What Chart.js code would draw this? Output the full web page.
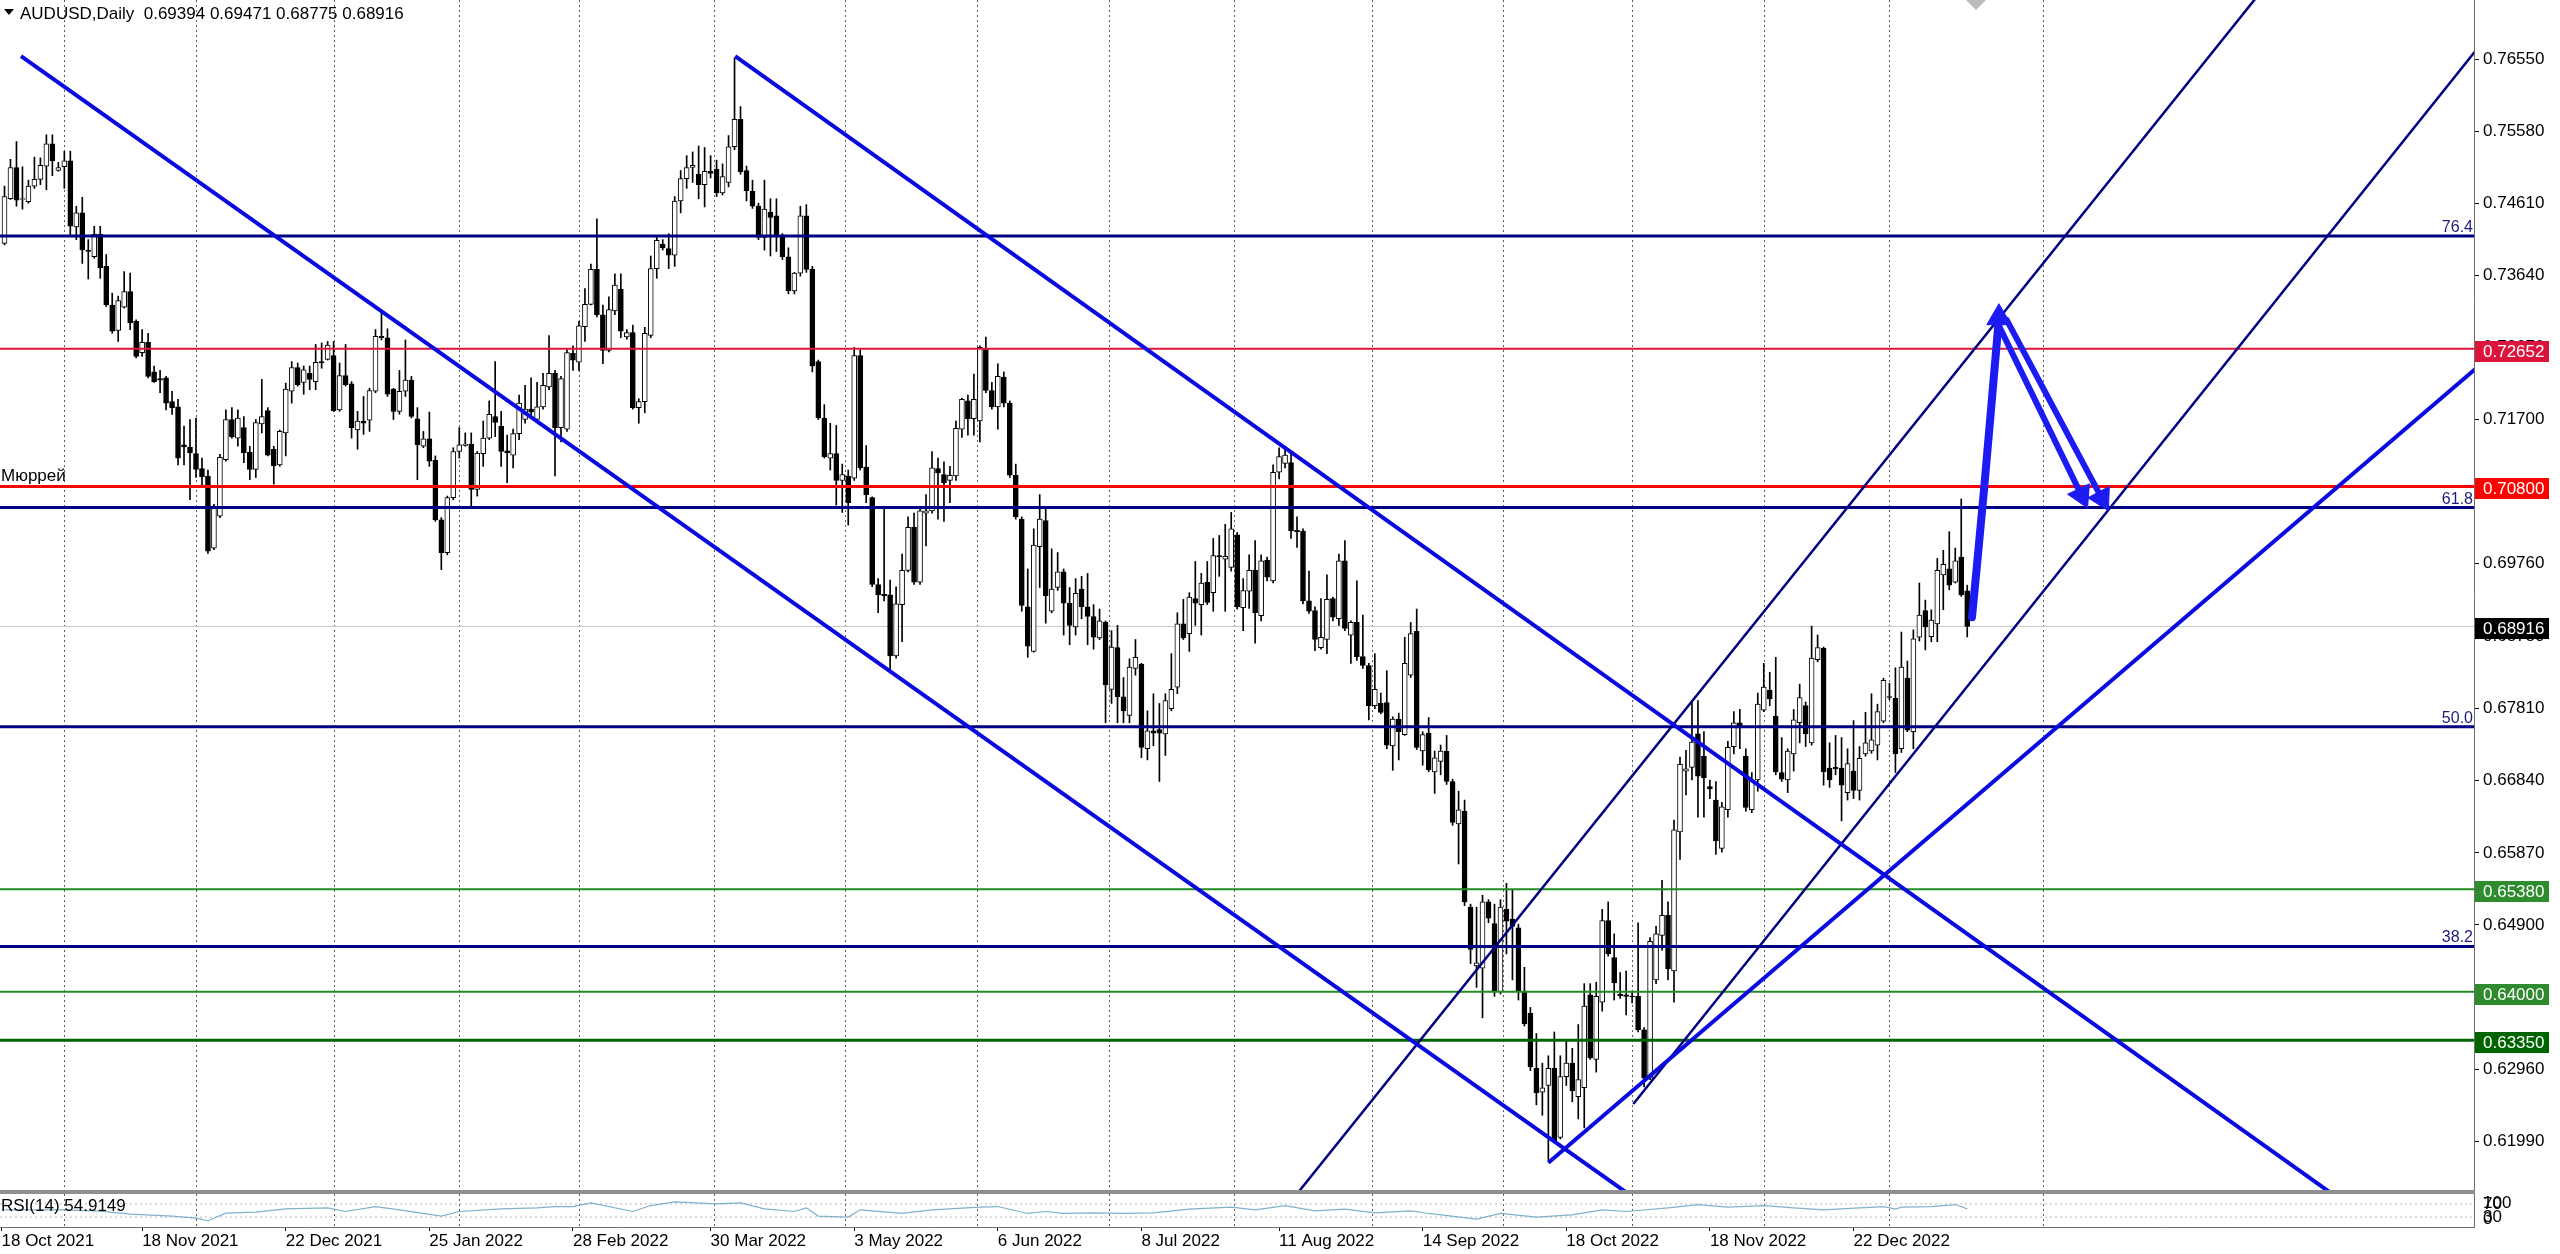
<!DOCTYPE html>
<html>
<head>
<meta charset="utf-8">
<script src="https://cdn.jsdelivr.net/npm/chart.js@4.4.0/dist/chart.umd.min.js"></script>
<style>
  html, body { margin: 0; padding: 0; background: #fff; }
  #wrap { position: relative; width: 2560px; height: 1254px; overflow: hidden; background: #fff; }
  #main { position: absolute; left: 0; top: 0; }
  #rsi { position: absolute; left: 0; top: 1190px; }
</style>
</head>
<body>
<div id="wrap">
  <canvas id="main" width="2560" height="1190"></canvas>
  <canvas id="rsi" width="2560" height="64"></canvas>
</div>
<script>
const FONT = '"Liberation Sans", Arial, sans-serif';
Chart.defaults.font.family = FONT;
Chart.defaults.font.size = 17;
Chart.defaults.color = '#000';

// AUDUSD daily candles, [open, high, low, close], one entry per bar
const oct2021 = [[0.7407,0.7484,0.7405,0.7470],[0.7467,0.7520,0.7466,0.7509],[0.7509,0.7544,0.7457,0.7465],[0.7466,0.7510,0.7453,0.7467],[0.7463,0.7492,0.7461,0.7484],[0.7484,0.7523,0.7481,0.7493],[0.7493,0.7522,0.7486,0.7512],[0.7511,0.7553,0.7479,0.7541],[0.7541,0.7553,0.7498,0.7518],[0.7505,0.7516,0.7504,0.7509]];
const nov2021 = [[0.7510,0.7531,0.7481,0.7518],[0.7518,0.7531,0.7416,0.7430],[0.7429,0.7457,0.7412,0.7448],[0.7448,0.7469,0.7380,0.7398],[0.7398,0.7412,0.7359,0.7396],[0.7389,0.7430,0.7387,0.7419],[0.7419,0.7430,0.7360,0.7374],[0.7376,0.7392,0.7322,0.7324],[0.7324,0.7340,0.7286,0.7289],[0.7290,0.7336,0.7275,0.7330],[0.7321,0.7369,0.7320,0.7342],[0.7342,0.7367,0.7291,0.7300],[0.7302,0.7304,0.7253,0.7255],[0.7260,0.7291,0.7255,0.7274],[0.7274,0.7286,0.7226,0.7228],[0.7234,0.7242,0.7220,0.7221],[0.7225,0.7236,0.7206,0.7223],[0.7226,0.7228,0.7183,0.7192],[0.7194,0.7208,0.7177,0.7186],[0.7187,0.7197,0.7109,0.7118],[0.7136,0.7161,0.7109,0.7133],[0.7133,0.7170,0.7062,0.7125]];
const dec2021 = [[0.7124,0.7172,0.7092,0.7103],[0.7104,0.7118,0.7080,0.7093],[0.7094,0.7102,0.6990,0.6993],[0.6997,0.7056,0.6995,0.7053],[0.7040,0.7123,0.7038,0.7119],[0.7116,0.7183,0.7114,0.7170],[0.7170,0.7186,0.7145,0.7147],[0.7145,0.7183,0.7134,0.7172],[0.7159,0.7174,0.7112,0.7125],[0.7126,0.7134,0.7089,0.7103],[0.7103,0.7170,0.7092,0.7166],[0.7164,0.7224,0.7152,0.7174],[0.7182,0.7186,0.7121,0.7122],[0.7130,0.7134,0.7083,0.7108],[0.7109,0.7156,0.7107,0.7154],[0.7152,0.7219,0.7121,0.7211],[0.7208,0.7248,0.7192,0.7240],[0.7240,0.7246,0.7215,0.7217],[0.7220,0.7242,0.7204,0.7237],[0.7232,0.7242,0.7210,0.7224],[0.7221,0.7271,0.7210,0.7247],[0.7248,0.7273,0.7239,0.7246],[0.7251,0.7275,0.7250,0.7270]];
const jan2022 = [[0.7256,0.7275,0.7181,0.7182],[0.7183,0.7246,0.7181,0.7229],[0.7229,0.7271,0.7215,0.7217],[0.7218,0.7221,0.7145,0.7159],[0.7156,0.7181,0.7130,0.7168],[0.7168,0.7201,0.7150,0.7165],[0.7169,0.7212,0.7154,0.7209],[0.7208,0.7291,0.7206,0.7282],[0.7282,0.7313,0.7277,0.7280],[0.7280,0.7292,0.7201,0.7204],[0.7211,0.7212,0.7170,0.7181],[0.7181,0.7236,0.7177,0.7208],[0.7208,0.7277,0.7201,0.7223],[0.7223,0.7228,0.7172,0.7174],[0.7171,0.7186,0.7089,0.7136],[0.7134,0.7154,0.7132,0.7144],[0.7144,0.7180,0.7107,0.7114],[0.7115,0.7121,0.7033,0.7035],[0.7035,0.7038,0.6968,0.6991],[0.6991,0.7067,0.6988,0.7065],[0.7065,0.7132,0.7062,0.7127]];
const feb2022 = [[0.7127,0.7159,0.7118,0.7136],[0.7135,0.7152,0.7134,0.7137],[0.7137,0.7152,0.7053,0.7076],[0.7076,0.7127,0.7067,0.7125],[0.7124,0.7168,0.7107,0.7145],[0.7145,0.7195,0.7143,0.7177],[0.7174,0.7248,0.7147,0.7166],[0.7161,0.7181,0.7107,0.7127],[0.7128,0.7149,0.7085,0.7125],[0.7122,0.7157,0.7105,0.7151],[0.7151,0.7203,0.7143,0.7192],[0.7170,0.7216,0.7165,0.7184],[0.7184,0.7226,0.7174,0.7180],[0.7170,0.7220,0.7168,0.7187],[0.7187,0.7232,0.7184,0.7216],[0.7214,0.7283,0.7210,0.7232],[0.7232,0.7236,0.7094,0.7159],[0.7159,0.7228,0.7140,0.7225],[0.7157,0.7264,0.7154,0.7260],[0.7259,0.7269,0.7236,0.7250]];
const mar2022 = [[0.7247,0.7302,0.7236,0.7296],[0.7295,0.7346,0.7275,0.7325],[0.7325,0.7379,0.7324,0.7372],[0.7372,0.7440,0.7308,0.7311],[0.7311,0.7324,0.7245,0.7263],[0.7263,0.7335,0.7261,0.7318],[0.7316,0.7366,0.7311,0.7351],[0.7345,0.7366,0.7280,0.7289],[0.7281,0.7291,0.7278,0.7287],[0.7287,0.7297,0.7184,0.7186],[0.7186,0.7198,0.7165,0.7194],[0.7194,0.7294,0.7179,0.7286],[0.7283,0.7390,0.7280,0.7373],[0.7373,0.7415,0.7360,0.7411],[0.7406,0.7412,0.7398,0.7401],[0.7400,0.7420,0.7373,0.7391],[0.7391,0.7470,0.7376,0.7464],[0.7464,0.7505,0.7448,0.7494],[0.7494,0.7525,0.7481,0.7509],[0.7509,0.7530,0.7489,0.7512],[0.7500,0.7538,0.7467,0.7486],[0.7486,0.7536,0.7456,0.7504],[0.7504,0.7525,0.7495,0.7501]];
const apr2022 = [[0.7507,0.7519,0.7470,0.7475],[0.7475,0.7514,0.7472,0.7497],[0.7489,0.7552,0.7483,0.7537],[0.7537,0.7656,0.7533,0.7574],[0.7574,0.7591,0.7500,0.7503],[0.7505,0.7511,0.7464,0.7478],[0.7477,0.7492,0.7454,0.7457],[0.7457,0.7461,0.7412,0.7415],[0.7415,0.7492,0.7398,0.7453],[0.7449,0.7467,0.7390,0.7442],[0.7444,0.7467,0.7396,0.7416],[0.7416,0.7420,0.7385,0.7389],[0.7389,0.7401,0.7339,0.7343],[0.7343,0.7368,0.7339,0.7367],[0.7367,0.7457,0.7363,0.7444],[0.7444,0.7459,0.7368,0.7372],[0.7372,0.7376,0.7234,0.7242],[0.7248,0.7250,0.7170,0.7172],[0.7172,0.7190,0.7118,0.7120],[0.7118,0.7165,0.7102,0.7124],[0.7124,0.7162,0.7055,0.7088]];
const may2022 = [[0.7088,0.7110,0.7045,0.7096],[0.7094,0.7102,0.7028,0.7058],[0.7091,0.7267,0.7088,0.7256],[0.7256,0.7264,0.7102,0.7105],[0.7106,0.7135,0.7058,0.7069],[0.7065,0.7066,0.6945,0.6948],[0.6948,0.6956,0.6910,0.6934],[0.6935,0.7050,0.6926,0.6933],[0.6934,0.6954,0.6830,0.6852],[0.6852,0.6945,0.6849,0.6922],[0.6921,0.6989,0.6871,0.6967],[0.6967,0.7039,0.6965,0.7025],[0.7025,0.7044,0.6948,0.6951],[0.6951,0.7053,0.6948,0.7047],[0.7044,0.7069,0.7000,0.7047],[0.7047,0.7127,0.7044,0.7105],[0.7104,0.7118,0.7036,0.7098],[0.7096,0.7113,0.7033,0.7085],[0.7088,0.7107,0.7058,0.7095],[0.7094,0.7168,0.7088,0.7158],[0.7157,0.7199,0.7146,0.7197],[0.7195,0.7203,0.7149,0.7171]];
const jun2022 = [[0.7171,0.7231,0.7149,0.7197],[0.7168,0.7269,0.7140,0.7267],[0.7264,0.7281,0.7206,0.7209],[0.7209,0.7220,0.7184,0.7187],[0.7187,0.7245,0.7157,0.7228],[0.7227,0.7234,0.7187,0.7192],[0.7192,0.7195,0.7092,0.7095],[0.7095,0.7110,0.7036,0.7039],[0.7036,0.7039,0.6912,0.6920],[0.6918,0.6969,0.6850,0.6865],[0.6858,0.7023,0.6857,0.7001],[0.6999,0.7069,0.6944,0.7036],[0.7034,0.7052,0.6896,0.6933],[0.6912,0.6996,0.6910,0.6942],[0.6944,0.6991,0.6940,0.6965],[0.6965,0.6969,0.6880,0.6923],[0.6923,0.6944,0.6867,0.6893],[0.6891,0.6956,0.6880,0.6936],[0.6942,0.6959,0.6902,0.6918],[0.6918,0.6963,0.6867,0.6905],[0.6905,0.6921,0.6861,0.6877],[0.6876,0.6915,0.6874,0.6899]];
const jul2022 = [[0.6897,0.6899,0.6762,0.6813],[0.6807,0.6886,0.6788,0.6864],[0.6863,0.6893,0.6762,0.6797],[0.6797,0.6823,0.6762,0.6778],[0.6772,0.6848,0.6762,0.6837],[0.6835,0.6874,0.6826,0.6850],[0.6841,0.6842,0.6715,0.6729],[0.6727,0.6778,0.6712,0.6751],[0.6751,0.6801,0.6731,0.6748],[0.6753,0.6788,0.6683,0.6748],[0.6747,0.6801,0.6718,0.6792],[0.6781,0.6855,0.6778,0.6807],[0.6810,0.6910,0.6801,0.6895],[0.6895,0.6928,0.6874,0.6876],[0.6882,0.6937,0.6858,0.6931],[0.6929,0.6979,0.6893,0.6923],[0.6921,0.6963,0.6880,0.6950],[0.6951,0.6979,0.6921,0.6924],[0.6937,0.7010,0.6912,0.6987],[0.6987,0.7014,0.6959,0.6985],[0.6982,0.7029,0.6912,0.6986]];
const aug2022 = [[0.6971,0.7045,0.6966,0.7023],[0.7015,0.7018,0.6915,0.6918],[0.6917,0.6956,0.6886,0.6940],[0.6939,0.6988,0.6916,0.6967],[0.6967,0.7007,0.6869,0.6910],[0.6906,0.6988,0.6899,0.6980],[0.6981,0.6985,0.6953,0.6958],[0.6953,0.7109,0.6950,0.7099],[0.7099,0.7132,0.7090,0.7120],[0.7111,0.7131,0.7105,0.7122],[0.7112,0.7125,0.7010,0.7020],[0.7021,0.7039,0.6998,0.7019],[0.7020,0.7023,0.6922,0.6926],[0.6926,0.6966,0.6909,0.6912],[0.6913,0.6918,0.6859,0.6874],[0.6863,0.6929,0.6861,0.6877],[0.6874,0.6961,0.6855,0.6928],[0.6929,0.6931,0.6899,0.6904],[0.6902,0.6989,0.6893,0.6980],[0.6980,0.7007,0.6886,0.6889],[0.6880,0.6899,0.6842,0.6897],[0.6897,0.6953,0.6846,0.6851],[0.6851,0.6907,0.6835,0.6839]];
const sep2022 = [[0.6839,0.6842,0.6766,0.6785],[0.6785,0.6855,0.6781,0.6807],[0.6788,0.6802,0.6774,0.6776],[0.6789,0.6832,0.6727,0.6732],[0.6731,0.6770,0.6698,0.6767],[0.6767,0.6775,0.6712,0.6750],[0.6746,0.6877,0.6745,0.6842],[0.6826,0.6897,0.6823,0.6882],[0.6885,0.6915,0.6726,0.6729],[0.6724,0.6750,0.6705,0.6746],[0.6748,0.6769,0.6696,0.6699],[0.6696,0.6724,0.6667,0.6715],[0.6710,0.6732,0.6692,0.6724],[0.6724,0.6745,0.6679,0.6683],[0.6683,0.6686,0.6624,0.6628],[0.6626,0.6670,0.6572,0.6645],[0.6643,0.6658,0.6516,0.6521],[0.6514,0.6518,0.6438,0.6457],[0.6435,0.6514,0.6406,0.6439],[0.6432,0.6530,0.6365,0.6521],[0.6521,0.6524,0.6493,0.6499],[0.6492,0.6518,0.6394,0.6400]];
const oct2022 = [[0.6400,0.6524,0.6397,0.6514],[0.6511,0.6546,0.6451,0.6495],[0.6498,0.6538,0.6416,0.6488],[0.6486,0.6491,0.6389,0.6401],[0.6401,0.6433,0.6354,0.6357],[0.6371,0.6379,0.6294,0.6299],[0.6297,0.6344,0.6248,0.6264],[0.6265,0.6304,0.6234,0.6271],[0.6274,0.6314,0.6173,0.6297],[0.6297,0.6346,0.6197,0.6199],[0.6204,0.6314,0.6202,0.6286],[0.6286,0.6336,0.6274,0.6304],[0.6304,0.6324,0.6252,0.6267],[0.6259,0.6356,0.6229,0.6282],[0.6271,0.6411,0.6217,0.6381],[0.6396,0.6411,0.6309,0.6311],[0.6309,0.6413,0.6292,0.6394],[0.6386,0.6511,0.6374,0.6496],[0.6496,0.6521,0.6448,0.6451],[0.6446,0.6478,0.6389,0.6412],[0.6397,0.6426,0.6391,0.6395]];
const nov2022 = [[0.6396,0.6428,0.6369,0.6394],[0.6394,0.6401,0.6385,0.6393],[0.6394,0.6493,0.6346,0.6349],[0.6349,0.6352,0.6272,0.6284],[0.6284,0.6473,0.6282,0.6468],[0.6416,0.6488,0.6411,0.6478],[0.6476,0.6550,0.6456,0.6503],[0.6503,0.6521,0.6416,0.6431],[0.6428,0.6631,0.6386,0.6618],[0.6615,0.6716,0.6578,0.6706],[0.6697,0.6725,0.6665,0.6700],[0.6702,0.6792,0.6685,0.6736],[0.6747,0.6792,0.6635,0.6690],[0.6717,0.6750,0.6635,0.6688],[0.6676,0.6685,0.6660,0.6673],[0.6658,0.6683,0.6585,0.6603],[0.6593,0.6655,0.6588,0.6649],[0.6645,0.6737,0.6635,0.6729],[0.6730,0.6777,0.6720,0.6762],[0.6762,0.6780,0.6727,0.6755],[0.6717,0.6727,0.6643,0.6648],[0.6645,0.6695,0.6641,0.6685]];
const dec2022 = [[0.6685,0.6802,0.6670,0.6787],[0.6779,0.6842,0.6777,0.6810],[0.6806,0.6830,0.6785,0.6794],[0.6771,0.6850,0.6692,0.6696],[0.6695,0.6742,0.6683,0.6686],[0.6685,0.6727,0.6668,0.6724],[0.6720,0.6780,0.6697,0.6766],[0.6762,0.6814,0.6735,0.6796],[0.6785,0.6790,0.6730,0.6747],[0.6735,0.6892,0.6732,0.6849],[0.6847,0.6880,0.6844,0.6863],[0.6862,0.6864,0.6678,0.6696],[0.6701,0.6735,0.6675,0.6685],[0.6702,0.6745,0.6692,0.6700],[0.6701,0.6742,0.6630,0.6678],[0.6668,0.6727,0.6658,0.6707],[0.6697,0.6765,0.6660,0.6671],[0.6671,0.6730,0.6658,0.6714],[0.6720,0.6776,0.6717,0.6735],[0.6724,0.6801,0.6721,0.6739],[0.6732,0.6787,0.6712,0.6777],[0.6764,0.6822,0.6762,0.6819]];
const jan2023 = [[0.6797,0.6815,0.6793,0.6796],[0.6795,0.6836,0.6695,0.6720],[0.6727,0.6884,0.6722,0.6837],[0.6822,0.6845,0.6750,0.6752],[0.6750,0.6887,0.6727,0.6875],[0.6877,0.6950,0.6872,0.6907],[0.6913,0.6927,0.6860,0.6891],[0.6878,0.6914,0.6871,0.6900],[0.6895,0.6983,0.6871,0.6967],[0.6961,0.6994,0.6914,0.6975],[0.6969,0.7019,0.6941,0.6947],[0.6951,0.6997,0.6950,0.6980],[0.6985,0.7063,0.6932,0.6934],[0.69394,0.69471,0.68775,0.68916]];

const candles = [].concat(oct2021, nov2021, dec2021, jan2022, feb2022, mar2022, apr2022,
  may2022, jun2022, jul2022, aug2022, sep2022, oct2022, nov2022, dec2022, jan2023);

// price axis ticks
const priceTicks = [0.76550, 0.75580, 0.74610, 0.73640, 0.72670, 0.71700, 0.70730, 0.69760,
  0.68780, 0.67810, 0.66840, 0.65870, 0.64900, 0.63930, 0.62960, 0.61990];

// date axis (bar index of each label) and month separators
const dateTickIdx = [-0.5, 23, 47, 71, 95, 118, 142, 166, 190, 213, 237, 261, 285, 309];
const dateTickText = ['18 Oct 2021', '18 Nov 2021', '22 Dec 2021', '25 Jan 2022', '28 Feb 2022',
  '30 Mar 2022', '3 May 2022', '6 Jun 2022', '8 Jul 2022', '11 Aug 2022', '14 Sep 2022',
  '18 Oct 2022', '18 Nov 2022', '22 Dec 2022'];
const monthStarts = [10, 32, 55, 76, 96, 118.5, 140.5, 162.5, 184.5, 205.5, 228.5, 250.5, 272, 294, 315, 340.7];

// RSI(14)
const rsiIdx = [0, 5, 10, 16, 21, 28, 32, 34, 37, 42, 47, 54, 57, 62, 66, 73, 76, 83, 89, 92,
  95, 98, 105, 108, 112, 119, 123, 127, 132, 134, 136, 141, 143, 150, 155, 163, 166, 171, 174, 177,
  182, 187, 192, 198, 205, 209, 214, 219, 224, 229, 235, 238, 246, 250, 256, 262, 267, 271, 278, 283,
  288, 294, 299, 304, 310, 314, 316, 317, 322, 326, 328];
const rsiVal = [52, 52, 52, 48, 39, 33, 27, 19, 42, 45, 55, 58, 47, 62, 52, 33, 47, 55, 58, 62,
  62, 73, 47, 65, 76, 70, 73, 55, 47, 58, 33, 30, 52, 41, 52, 60, 62, 41, 47, 41,
  43, 41, 43, 54, 60, 52, 65, 49, 54, 43, 49, 41, 24, 41, 30, 37, 52, 47, 58, 68,
  60, 65, 58, 52, 58, 62, 54, 60, 62, 68, 55];
const rsiLevels = [70, 30];

// horizontal levels
const fibLevels = [0.74168, 0.70516, 0.67565, 0.64610];
const fibText = ['76.4', '61.8', '50.0', '38.2'];
const levelPrices = [0.72652, 0.70800, 0.65380, 0.64000, 0.63350];
const lastPrice = 0.68916;
const murreyLevel = 0.70800;

// trend lines, [barIndex, price] end points
const blueRays = [
  [[2.76, 0.7659], [280, 0.6079]],
  [[122.1, 0.7659], [400, 0.6065]],
  [[258, 0.6170], [420, 0.7287]]
];
const navyRays = [
  [[210, 0.6068], [385, 0.7825]],
  [[272.2, 0.6249], [420, 0.7737]]
];
// forecast arrows
const arrowUp = [[328.8, 0.6904], [330.8, 0.7075], [333.3, 0.7307]];
const arrowDownA = [[333.0, 0.7301], [347.1, 0.7068]];
const arrowDownB = [[334.6, 0.7304], [350.5, 0.7064]];

// styles
const levelColors = ['#dc143c', '#ff0000', '#228b22', '#228b22', '#006400'];
const levelWidths = [2, 3, 2, 2, 3];
const tagColors = ['#dc143c', '#ff0000', '#2e8b2e', '#2e8b2e', '#006400'];
const NAVY = '#000080';
const BLUE = '#0a0ae0';
const ARROW = '#1c1cf2';

const X_MIN = -0.752, X_MAX = 412.69;
const Y_MIN = 0.61334, Y_MAX = 0.77344;

function hLine(price, color, width, order) {
  return {
    type: 'line', data: [{x: X_MIN, y: price}, {x: X_MAX, y: price}],
    borderColor: color, borderWidth: width, pointRadius: 0, order: order
  };
}
function seg(pts, color, width, order) {
  return {
    type: 'line', data: pts.map(p => ({x: p[0], y: p[1]})),
    borderColor: color, borderWidth: width, pointRadius: 0, order: order
  };
}
function arrow(pts, width, rot, tension) {
  return {
    type: 'line', data: pts.map(p => ({x: p[0], y: p[1]})),
    borderColor: ARROW, borderWidth: width, tension: tension,
    borderCapStyle: 'round', borderJoinStyle: 'round',
    pointStyle: 'triangle',
    pointRadius: pts.map((p, i) => i === pts.length - 1 ? 14 : 0),
    pointRotation: pts.map((p, i) => i === pts.length - 1 ? rot : 0),
    pointBackgroundColor: ARROW, pointBorderColor: ARROW, pointBorderWidth: 1,
    order: 0
  };
}

const datasets = [];
datasets.push(hLine(lastPrice, '#c8c8c8', 1, 20));
datasets.push({
  type: 'bar', label: 'wicks',
  data: candles.map((c, i) => ({x: i, y: [c[2], c[1]]})),
  backgroundColor: '#000', borderWidth: 0, barThickness: 1, grouped: false, order: 12
});
datasets.push({
  type: 'bar', label: 'bodies',
  data: candles.map((c, i) => ({x: i, y: [Math.min(c[0], c[3]), Math.max(c[0], c[3])]})),
  backgroundColor: candles.map(c => c[3] >= c[0] ? '#fff' : '#000'),
  borderColor: '#000', borderWidth: 1, borderSkipped: false,
  barThickness: 5, minBarLength: 1, grouped: false, order: 11
});
fibLevels.forEach(v => datasets.push(hLine(v, NAVY, 3, 5)));
levelPrices.forEach((v, k) => datasets.push(hLine(v, levelColors[k], levelWidths[k], 5)));
blueRays.forEach(r => datasets.push(seg(r, BLUE, 4, 3)));
navyRays.forEach(r => datasets.push(seg(r, NAVY, 2.5, 3)));
datasets.push(arrow(arrowUp, 8, 0, 0.3));
datasets.push(arrow(arrowDownA, 6, 154.6, 0));
datasets.push(arrow(arrowDownB, 6, 152.2, 0));

function monthGrid(chart) {
  const {ctx, chartArea: a, scales: {x}} = chart;
  ctx.save();
  ctx.strokeStyle = '#5c5c5c';
  ctx.lineWidth = 1;
  ctx.setLineDash([2, 3]);
  monthStarts.forEach(i => {
    const px = Math.round(x.getPixelForValue(i)) + 0.5;
    ctx.beginPath();
    ctx.moveTo(px, a.top);
    ctx.lineTo(px, a.bottom);
    ctx.stroke();
  });
  ctx.restore();
}

const mainOverlay = {
  id: 'mainOverlay',
  beforeDatasetsDraw: monthGrid,
  afterDraw(chart) {
    const {ctx, chartArea: a, scales: {y}} = chart;
    ctx.save();
    // fibo level captions
    ctx.font = '16px ' + FONT;
    ctx.fillStyle = '#1c1c7a';
    ctx.textAlign = 'right';
    ctx.textBaseline = 'alphabetic';
    fibLevels.forEach((v, k) => ctx.fillText(fibText[k], a.right - 1, y.getPixelForValue(v) - 4));
    // Murrey caption
    ctx.font = '17px ' + FONT;
    ctx.fillStyle = '#000';
    ctx.textAlign = 'left';
    ctx.fillText('Мюррей', 1, y.getPixelForValue(murreyLevel) - 5);
    // price tags on the axis
    const tag = (v, bg) => {
      const py = Math.round(y.getPixelForValue(v));
      ctx.fillStyle = bg;
      ctx.fillRect(a.right + 1, py - 8, 74, 21);
      ctx.fillStyle = '#fff';
      ctx.textBaseline = 'middle';
      ctx.fillText(v.toFixed(5), a.right + 9, py + 3);
    };
    levelPrices.forEach((v, k) => tag(v, tagColors[k]));
    tag(lastPrice, '#000');
    // header
    ctx.fillStyle = '#000';
    ctx.beginPath();
    ctx.moveTo(4, 9); ctx.lineTo(14, 9); ctx.lineTo(9, 15); ctx.closePath();
    ctx.fill();
    ctx.textBaseline = 'alphabetic';
    ctx.fillText('AUDUSD,Daily  0.69394 0.69471 0.68775 0.68916', 20, 19);
    // chart shift marker
    ctx.fillStyle = '#bdbdbd';
    ctx.beginPath();
    ctx.moveTo(1966, 0); ctx.lineTo(1986, 0); ctx.lineTo(1976, 10); ctx.closePath();
    ctx.fill();
    ctx.restore();
  }
};

new Chart(document.getElementById('main'), {
  type: 'bar',
  data: {datasets: datasets},
  options: {
    responsive: false, animation: false, devicePixelRatio: 1, events: [],
    layout: {autoPadding: false, padding: {left: 0, right: 0, top: 0, bottom: 0}},
    plugins: {legend: {display: false}, tooltip: {enabled: false}},
    scales: {
      x: {type: 'linear', min: X_MIN, max: X_MAX, offset: false, display: false, grid: {offset: false}},
      y: {
        type: 'linear', position: 'right', min: Y_MIN, max: Y_MAX,
        afterBuildTicks: s => { s.ticks = priceTicks.map(v => ({value: v})); },
        afterFit: s => { s.width = 86; s.paddingTop = 0; s.paddingBottom = 0; },
        ticks: {callback: v => v.toFixed(5), padding: 4, autoSkip: false, color: '#000', font: {size: 17}},
        grid: {drawOnChartArea: false, drawTicks: true, tickLength: 5, tickColor: '#000'},
        border: {display: true, color: '#6e6e6e', width: 1}
      }
    }
  },
  plugins: [mainOverlay]
});

const rsiOverlay = {
  id: 'rsiOverlay',
  beforeDatasetsDraw: monthGrid,
  afterDraw(chart) {
    const {ctx, chartArea: a} = chart;
    ctx.save();
    ctx.fillStyle = '#8f8f8f';
    ctx.fillRect(0, 0, a.right + 1, 4);
    ctx.font = '17px ' + FONT;
    ctx.fillStyle = '#000';
    ctx.textAlign = 'left';
    ctx.textBaseline = 'alphabetic';
    ctx.fillText('RSI(14) 54.9149', 1, 21);
    // top and bottom scale values sit inside the pane
    ctx.textBaseline = 'top';
    ctx.fillText('100', a.right + 9, a.top + 1);
    ctx.textBaseline = 'bottom';
    ctx.fillText('0', a.right + 9, a.bottom + 1);
    ctx.restore();
  }
};

new Chart(document.getElementById('rsi'), {
  type: 'line',
  data: {
    datasets: [
      {data: rsiIdx.map((v, i) => ({x: v, y: rsiVal[i]})), borderColor: '#7fb1cc', borderWidth: 1.2,
        pointRadius: 0, tension: 0, order: 1},
      ...rsiLevels.map(v => ({data: [{x: X_MIN, y: v}, {x: X_MAX, y: v}], borderColor: '#b8b8b8',
        borderWidth: 1, borderDash: [2, 3], pointRadius: 0, order: 2}))
    ]
  },
  options: {
    responsive: false, animation: false, devicePixelRatio: 1, events: [],
    layout: {autoPadding: false, padding: {left: 0, right: 0, top: 4, bottom: 0}},
    plugins: {legend: {display: false}, tooltip: {enabled: false}},
    scales: {
      x: {
        type: 'linear', position: 'bottom', min: X_MIN, max: X_MAX, offset: false,
        afterBuildTicks: s => { s.ticks = dateTickIdx.map(v => ({value: v})); },
        afterFit: s => { s.height = 27; s.paddingLeft = 0; s.paddingRight = 0; },
        ticks: {callback: (v, i) => dateTickText[i], align: 'start', autoSkip: false, maxRotation: 0,
          padding: 0, color: '#000', font: {size: 17}},
        grid: {drawOnChartArea: false, drawTicks: true, tickLength: 4, tickColor: '#000', offset: false},
        border: {display: true, color: '#6e6e6e', width: 1}
      },
      y: {
        type: 'linear', position: 'right', min: 0, max: 100,
        afterBuildTicks: s => { s.ticks = rsiLevels.map(v => ({value: v})); },
        afterFit: s => { s.width = 86; s.paddingTop = 0; s.paddingBottom = 0; },
        ticks: {callback: v => String(v), padding: 9, autoSkip: false, color: '#000', font: {size: 17}},
        grid: {drawOnChartArea: false, drawTicks: false},
        border: {display: true, color: '#6e6e6e', width: 1}
      }
    }
  },
  plugins: [rsiOverlay]
});
</script>
</body>
</html>
